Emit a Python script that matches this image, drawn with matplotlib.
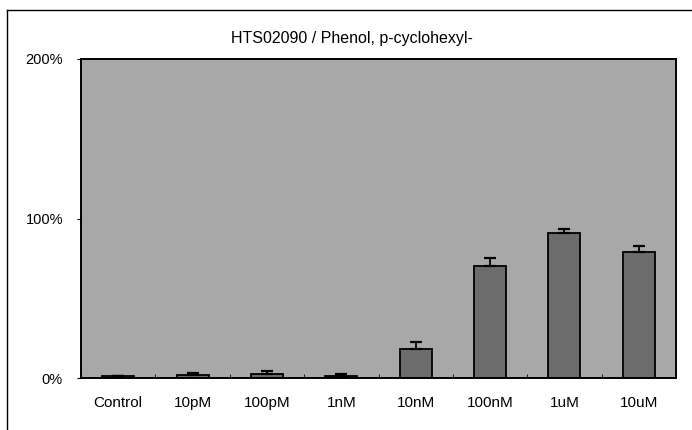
import numpy as np
import matplotlib.pyplot as plt

# ---- data ----
categories = ["Control", "10pM", "100pM", "1nM", "10nM", "100nM", "1uM", "10uM"]
response = [1.0, 2.0, 2.5, 1.5, 18.0, 70.0, 91.0, 79.0]
error_up = [0.5, 1.0, 2.0, 1.0, 4.5, 5.0, 2.5, 4.0]
title = "HTS02090 / Phenol, p-cyclohexyl-"
y_ticks = [0, 100, 200]
y_tick_labels = ["0%", "100%", "200%"]

plt.rcParams["font.family"] = ["Liberation Sans", "DejaVu Sans"]

fig = plt.figure(figsize=(6.92, 4.30), dpi=100)
fig.patch.set_facecolor("white")

# outer frame (left and top edges)
fig.add_artist(plt.Line2D([7 / 692, 7 / 692], [0, 1 - 10 / 430],
                          transform=fig.transFigure, color="black", lw=1.0))
fig.add_artist(plt.Line2D([7 / 692, 1], [1 - 10 / 430, 1 - 10 / 430],
                          transform=fig.transFigure, color="black", lw=1.0))

ax = fig.add_axes([81 / 692, 1 - 378 / 430, (676 - 81) / 692, (378 - 59) / 430])
ax.set_facecolor("#a8a8a8")

x = np.arange(len(categories))
ax.bar(x, response, width=0.43, color="#6c6c6c", edgecolor="black", linewidth=1.3,
       zorder=2)
ax.errorbar(x, response, yerr=[np.zeros(len(error_up)), error_up], fmt="none",
            ecolor="black", elinewidth=1.3, capsize=4, capthick=1.6, zorder=3)

ax.set_xlim(-0.5, len(categories) - 0.5)
ax.set_ylim(0, 200)

ax.set_yticks(y_ticks)
ax.set_yticklabels(y_tick_labels, fontsize=10.5)
ax.tick_params(axis="y", direction="out", length=3, pad=10)

ax.set_xticks(x)
ax.set_xticklabels(categories, fontsize=11)
ax.tick_params(axis="x", length=0, pad=13)
ax.set_xticks(np.arange(len(categories) + 1) - 0.5, minor=True)
ax.tick_params(axis="x", which="minor", direction="in", length=3)

for side in ["left", "bottom", "top", "right"]:
    ax.spines[side].set_linewidth(1.4)
    ax.spines[side].set_color("black")

fig.text(352 / 692, 1 - 39 / 430, title, ha="center", va="center",
         fontsize=11.5)

fig.savefig("out.png", dpi=100)
